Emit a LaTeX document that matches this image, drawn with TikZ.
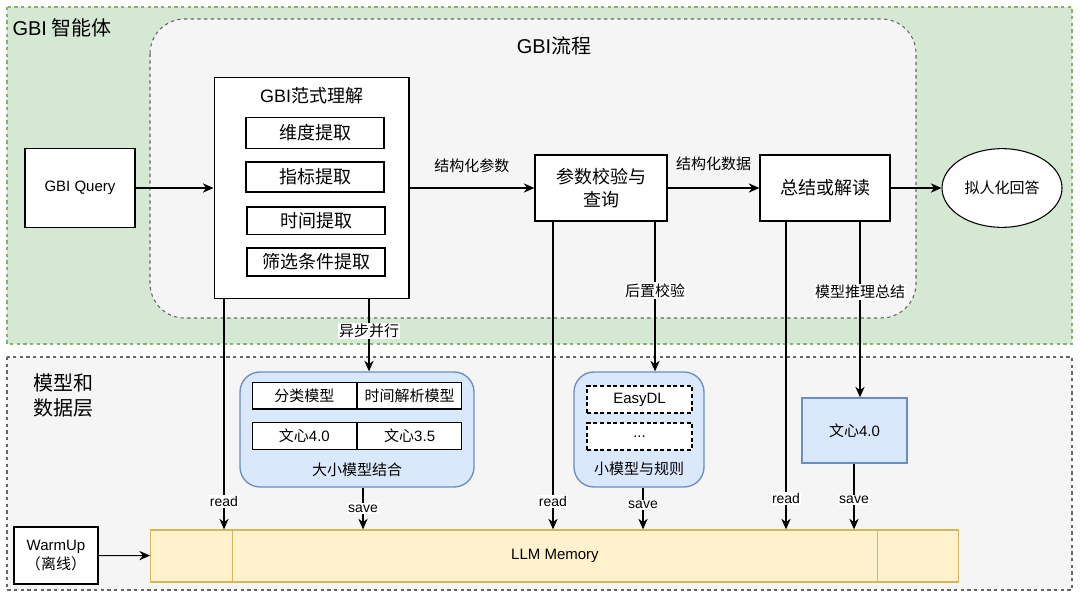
\documentclass[tikz,border=0pt]{standalone}
\usepackage{fontspec}
\setmainfont{Noto Sans CJK SC}
\newfontfamily\lat{Liberation Sans}
\usetikzlibrary{shapes,arrows.meta}

\definecolor{grfill}{HTML}{D5E8D4}
\definecolor{grline}{HTML}{82B366}
\definecolor{gyfill}{HTML}{F5F5F5}
\definecolor{gyline}{HTML}{666666}
\definecolor{blfill}{HTML}{DAE8FC}
\definecolor{blline}{HTML}{6C8EBF}
\definecolor{yefill}{HTML}{FFF2CC}
\definecolor{yeline}{HTML}{D6B656}

\begin{document}
\begin{tikzpicture}[x=0.75pt,y=-0.75pt,>={Stealth[length=8pt,width=7pt]},line width=0.8pt]
\tikzstyle{area}=[draw=#1line,fill=#1fill,dash pattern=on 2.5pt off 2.5pt,line width=0.8pt]
\tikzstyle{big}=[font=\fontsize{15}{18.75}\selectfont,inner sep=0pt]
\tikzstyle{mid}=[font=\fontsize{13.5}{17}\selectfont]
\tikzstyle{txt}=[font=\fontsize{11.25}{14}\selectfont]
\tikzstyle{box}=[draw,fill=white,line width=1pt,txt,align=center]
\tikzstyle{lab}=[fill=white,inner sep=1pt,txt]
\tikzstyle{rw}=[lab,font=\lat\fontsize{10.5}{12}\selectfont]
\tikzstyle{pair}=[rectangle split,rectangle split horizontal,rectangle split parts=2,draw,fill=white,line width=1pt,inner xsep=0pt,minimum height=20pt,txt]
\tikzstyle{group}=[draw=blline,fill=blfill,rounded corners=15pt,line width=1pt]
\path[use as bounding box,fill=white] (0,0) rectangle (1080,599);

% agent layer
\draw[area=gr] (7,7) rectangle (1072,344);
\node[big,anchor=west] (T1) at (12,28) {{\lat GBI} 智能体};
\draw[area=gy,rounded corners=26pt] (150,19) rectangle (916,318);
\node[big] (T2) at (554,46) {{\lat GBI}流程};

\node[box,minimum width=82.5pt,minimum height=59pt] (Q) at (80,188) {\lat GBI Query};
\node[box,minimum width=146pt,minimum height=166pt] (P) at (311.5,188) {};
\node[mid] (Pt) at (311.5,96) {{\lat GBI}范式理解};
\node[box,mid,inner ysep=1pt,minimum width=103.5pt,minimum height=23pt] (P1) at (315,133) {维度提取};
\node[box,mid,inner ysep=1pt,minimum width=103.5pt,minimum height=22.5pt] (P2) at (315,177) {指标提取};
\node[box,mid,inner ysep=1pt,minimum width=103.5pt,minimum height=20.5pt] (P3) at (316,220.5) {时间提取};
\node[box,mid,inner ysep=1pt,minimum width=103.5pt,minimum height=21pt] (P4) at (316,262) {筛选条件提取};
\node[box,mid,minimum width=99pt,minimum height=49.5pt] (V) at (601,188) {参数校验与\\查询};
\node[box,mid,minimum width=97.5pt,minimum height=49.5pt] (S) at (825,188) {总结或解读};
\node[box,ellipse,line width=0.8pt,minimum width=90pt,minimum height=59pt] (A) at (1002,188) {拟人化回答};

\draw[->] (Q) -- (P);
\draw[->] (P) -- node[txt,above=7.5pt] {结构化参数} (V);
\draw[->] (V) -- node[txt,above=9pt] {结构化数据} (S);
\draw[->] (S) -- (A);

% model and data layer
\draw[area=gy] (7,357) rectangle (1072,590);
\node[big,align=left,anchor=west] (T3) at (33,395) {模型和\\数据层};

\node[group,minimum width=175.5pt,minimum height=86.25pt] (M) at (357,429.5) {};
\node[pair] (M1) at (357,395.5) {\makebox[78pt]{分类模型}\nodepart{two}\makebox[78pt]{时间解析模型}};
\node[pair] (M2) at (357,436) {\makebox[78pt]{文心{\lat 4.0}}\nodepart{two}\makebox[78pt]{文心{\lat 3.5}}};
\node[txt] (Mt) at (357,470) {大小模型结合};

\node[group,minimum width=97.5pt,minimum height=86.25pt] (R) at (639,429.5) {};
\node[box,line width=1.1pt,dash pattern=on 3pt off 2pt,inner ysep=1pt,minimum width=78.75pt,minimum height=20.25pt] (R1) at (639.5,399.5) {\lat EasyDL};
\node[box,line width=1.1pt,dash pattern=on 3pt off 2pt,inner ysep=1pt,minimum width=78.75pt,minimum height=20.25pt] (R2) at (639.5,436.5) {\lat ...};
\node[txt] (Rt) at (639,469) {小模型与规则};

\node[draw=blline,fill=blfill,line width=1pt,minimum width=78.75pt,minimum height=48.75pt,txt] (W) at (854.5,430.5) {文心{\lat 4.0}};

\node[box,minimum width=63pt,minimum height=42.75pt] (U) at (56,555.5) {{\lat WarmUp}\\（离线）};
\node[rectangle split,rectangle split horizontal,rectangle split parts=3,draw=yeline,fill=yefill,line width=1pt,inner xsep=0pt,minimum height=39pt,txt] (L) at (554.5,556) {\makebox[60.75pt]{}\nodepart{two}\makebox[483pt]{\lat LLM Memory}\nodepart{three}\makebox[60pt]{}};

\draw[->] (U) -- (L);

\coordinate (x1) at (224,0);
\coordinate (x2) at (369,0);
\coordinate (x3) at (363,0);
\coordinate (x4) at (553,0);
\coordinate (x5) at (655,0);
\coordinate (x6) at (643,0);
\coordinate (x7) at (786,0);
\coordinate (x8) at (860,0);
\coordinate (x9) at (854,0);

\draw[->] (x1 |- P.south) -- node[rw,pos=0.88] {read} (x1 |- L.north);
\draw[->] (x2 |- P.south) -- node[lab,pos=0.44] {异步并行} (x2 |- M.north);
\draw[->] (x3 |- M.south) -- node[rw,pos=0.5] {save} (x3 |- L.north);
\draw[->] (x4 |- V.south) -- node[rw,pos=0.91] {read} (x4 |- L.north);
\draw[->] (x5 |- V.south) -- node[lab,pos=0.46] {后置校验} (x5 |- R.north);
\draw[->] (x6 |- R.south) -- node[rw,pos=0.42] {save} (x6 |- L.north);
\draw[->] (x7 |- S.south) -- node[rw,pos=0.9] {read} (x7 |- L.north);
\draw[->] (x8 |- S.south) -- node[lab,pos=0.4] {模型推理总结} (x8 |- W.north);
\draw[->] (x9 |- W.south) -- node[rw,pos=0.55] {save} (x9 |- L.north);
\end{tikzpicture}
\end{document}
